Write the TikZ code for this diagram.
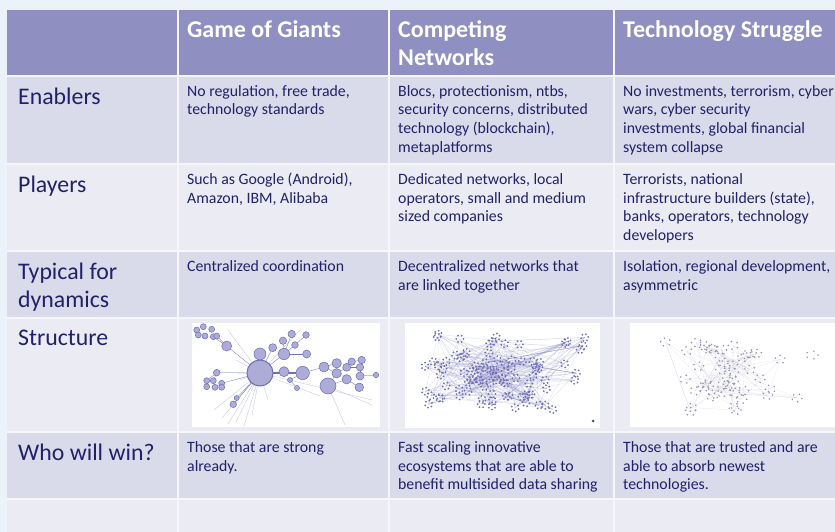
\documentclass[tikz,border=0pt]{standalone}
\usepackage{fontspec}
\setmainfont{Carlito}

\definecolor{pagebg}{RGB}{236,242,249}
\definecolor{gapfill}{RGB}{246,246,251}
\definecolor{hdrfill}{RGB}{143,143,193}
\definecolor{rowdark}{RGB}{217,218,234}
\definecolor{rowlight}{RGB}{235,235,244}
\definecolor{ink}{RGB}{33,33,105}
\definecolor{netblue}{RGB}{110,110,185}
\definecolor{netfill}{RGB}{172,172,214}
\definecolor{netgrey}{RGB}{150,150,180}

\begin{document}
\begin{tikzpicture}[x=1pt,y=-1pt,
	declare function={
		ua(\k)=frac(613.7*abs(sin(\k*97.13)));
		ub(\k)=frac(271.9*abs(sin(\k*31.7+7)));
		uc(\k)=frac(419.3*abs(sin(\k*53.71+11)));
		ud(\k)=frac(187.3*abs(sin(\k*71.3+3)));
		cnx(\k)=414+176*(0.65*ua(\k)+0.35*ub(\k));
		cny(\k)=331+87*(0.65*uc(\k)+0.35*ud(\k));
		tsx(\k)=655+150*(0.5*ub(\k)+0.5*uc(\k));
		tsy(\k)=332+90*(0.6*ua(\k)+0.4*ud(\k));
	}]
	\tikzstyle{hdr} = [anchor=north west, inner sep=0pt, align=left, text=white, font=\fontsize{24}{28}\selectfont\bfseries]
	\tikzstyle{rowlabel} = [anchor=north west, inner sep=0pt, align=left, text=ink, font=\fontsize{23.8}{28}\selectfont]
	\tikzstyle{cell} = [anchor=north west, inner sep=0pt, align=left, text=ink, font=\fontsize{15.8}{18.8}\selectfont]
	\tikzset{link/.style = {draw=netblue, line width=0.3pt}}
	
	\useasboundingbox (0,0) rectangle (835,532);
	\clip (0,0) rectangle (835,532);
	\fill[pagebg] (0,0) rectangle (835,532);
	\fill[gapfill] (7,10) rectangle (840,540);
	
	% table cells
	\foreach \ya/\yb/\fillcol in {10/75/hdrfill, 77/163/rowdark, 165/250/rowlight, 252/316.5/rowdark, 318.5/431/rowlight, 433/498/rowdark, 500/540/rowlight}
		\foreach \xa/\xb in {7/176.5, 178.5/387.5, 389.5/612.5, 614.5/840}
			\fill[\fillcol] (\xa,\ya) rectangle (\xb,\yb);
	
	\node[hdr](gog) at (187,17.4) {\strut Game of Giants};
	\node[hdr](cn) at (398,17.4) {\strut Competing\\Networks};
	\node[hdr](ts) at (623,17.4) {\strut Technology Struggle};
	
	\node[rowlabel](enablers) at (18,84.4) {\strut Enablers};
	\node[cell](en-gog) at (187,82.84) {\strut No regulation, free trade,\\technology standards};
	\node[cell](en-cn) at (398,82.84) {\strut Blocs, protectionism, ntbs,\\security concerns, distributed\\technology (blockchain),\\metaplatforms};
	\node[cell](en-ts) at (623,82.84) {\strut No investments, terrorism, cyber\\wars, cyber security\\investments, global financial\\system collapse};
	
	\node[rowlabel](players) at (18,172.4) {\strut Players};
	\node[cell](pl-gog) at (187,170.84) {\strut Such as Google (Android),\\Amazon, IBM, Alibaba};
	\node[cell](pl-cn) at (398,170.84) {\strut Dedicated networks, local\\operators, small and medium\\sized companies};
	\node[cell](pl-ts) at (623,170.84) {\strut Terrorists, national\\infrastructure builders (state),\\banks, operators, technology\\developers};
	
	\node[rowlabel](typical) at (18,259.4) {\strut Typical for\\dynamics};
	\node[cell](ty-gog) at (187,257.84) {\strut Centralized coordination};
	\node[cell](ty-cn) at (398,257.84) {\strut Decentralized networks that\\are linked together};
	\node[cell](ty-ts) at (623,257.84) {\strut Isolation, regional development,\\asymmetric};
	
	\node[rowlabel](structure) at (18,325.9) {\strut Structure};
	
	\node[rowlabel](winner) at (18,440.4) {\strut Who will win?};
	\node[cell](wi-gog) at (187,438.84) {\strut Those that are strong\\already.};
	\node[cell](wi-cn) at (398,438.84) {\strut Fast scaling innovative\\ecosystems that are able to\\benefit multisided data sharing};
	\node[cell](wi-ts) at (623,438.84) {\strut Those that are trusted and are\\able to absorb newest\\technologies.};
	
	% structure pictures
	\fill[white] (192,323) rectangle (380,427);
	\fill[white] (405,323) rectangle (600,428);
	\fill[white] (630,323) rectangle (840,427);
	
	\foreach \xb/\yb in {222/418, 228/424, 236/422, 244/426, 252/415, 214/410, 240/380, 236/360, 300/330, 320/396, 372/400, 228/330, 248/392, 268/400}
		\draw[link, draw=netblue!45] (260,373) -- (\xb,\yb);
	\draw[link, draw=netblue!45] (328,386) -- (345,425);
	\draw[link, draw=netblue!45] (328,386) -- (372,405);
	\foreach \xa/\ya/\xb/\yb in {260/373/226.7/346, 260/373/260/354, 260/373/272.7/347.7, 260/373/284/354, 260/373/284/371.7, 260/373/216.7/372.7, 260/373/221.7/383.3, 260/373/236.7/398, 260/373/233.3/404.3, 226.7/346/213.3/336.7, 226.7/346/216.7/336, 284/354/291.7/334, 284/354/283/340.7, 284/354/295/345, 284/354/306.7/354, 295/345/306/335, 302.7/373/324/367, 324/367/336.7/363.3, 324/367/336.7/373.3, 328/386/336.7/373.3, 328/386/346.7/379.3, 336.7/373.3/346.7/367.3, 346.7/367.3/351.7/361.7, 351.7/361.7/361.7/360, 346.7/367.3/360/367.3, 360/367.3/360/376, 346.7/379.3/359.3/387.3, 360/376/376/375, 302.7/373/290/380, 290/380/297/388, 216.7/372.7/206.7/380.7, 216.7/372.7/213.3/380.7, 221.7/383.3/215/387.3, 206.7/380.7/206.7/386.7}
		\draw[link] (\xa,\ya) -- (\xb,\yb);
	\draw[link, line width=1.4pt] (260,373) -- (302.7,373);
	\foreach \x/\y/\r in {226.7/346/5, 260/354/6, 272.7/347.7/4, 284/354/5.7, 291.7/334/3.7, 283/340.7/3.7, 295/345/3.3, 306/335/3.3, 306.7/354/4, 284/371.7/5, 302.7/373/6.7, 324/367/5, 328/386/8, 336.7/363.3/4.7, 346.7/367.3/4, 351.7/361.7/3.7, 361.7/360/3.7, 360/367.3/3.7, 360/376/4, 346.7/379.3/4.7, 336.7/373.3/4.7, 376/375/2.7, 359.3/387.3/4.3, 216.7/372.7/3.3, 206.7/380.7/3, 213.3/380.7/3, 221.7/383.3/3, 206.7/386.7/3, 215/387.3/3, 221.7/387.3/3, 196.7/330/3, 203.3/326.7/3, 211.7/329.3/3, 198.3/335/3, 205/336/3, 213.3/336.7/3, 216.7/336/3, 233.3/404.3/3.3, 236.7/398/2.5, 290/380/2.5, 297/388/2.5}
		\filldraw[fill=netfill, draw=netblue, line width=0.5pt] (\x,\y) circle[radius=\r pt];
	\filldraw[fill=netfill, draw=netblue, line width=1pt] (260,373) circle[radius=13pt];
	
	\foreach \k in {1,...,90}
		\foreach \j in {1,2,3,4} {
			\pgfmathtruncatemacro{\m}{mod(\k*\j*13+\j*7,90)+1}
			\draw[link, opacity=0.22] ({cnx(\k)},{cny(\k)}) -- ({cnx(\m)},{cny(\m)});
		}
	\foreach \k in {1,...,90}
		\foreach \a in {0,60,...,300}
			\fill[netblue] ({cnx(\k)+3.6*cos(\a+\k*10)},{cny(\k)+3.6*sin(\a+\k*10)}) circle[radius=1pt];
	\fill[netblue!70!black] (593,421) circle[radius=1.5pt];
	
	\foreach \k in {1,...,45}
		\foreach \j in {1,2} {
			\pgfmathtruncatemacro{\m}{mod(\k*\j*11+\j*5,45)+1}
			\draw[link, draw=netgrey, opacity=0.2] ({tsx(\k)},{tsy(\k)}) -- ({tsx(\m)},{tsy(\m)});
		}
	\foreach \k in {1,...,45}
		\foreach \a in {0,72,...,288}
			\fill[netgrey] ({tsx(\k)+5*cos(\a+\k*15)},{tsy(\k)+4*sin(\a+\k*15)}) circle[radius=0.9pt];
	\foreach \a in {0,72,...,288}
		\fill[netgrey] ({812+6*cos(\a)},{355+4*sin(\a)}) circle[radius=0.9pt];
\end{tikzpicture}
\end{document}
